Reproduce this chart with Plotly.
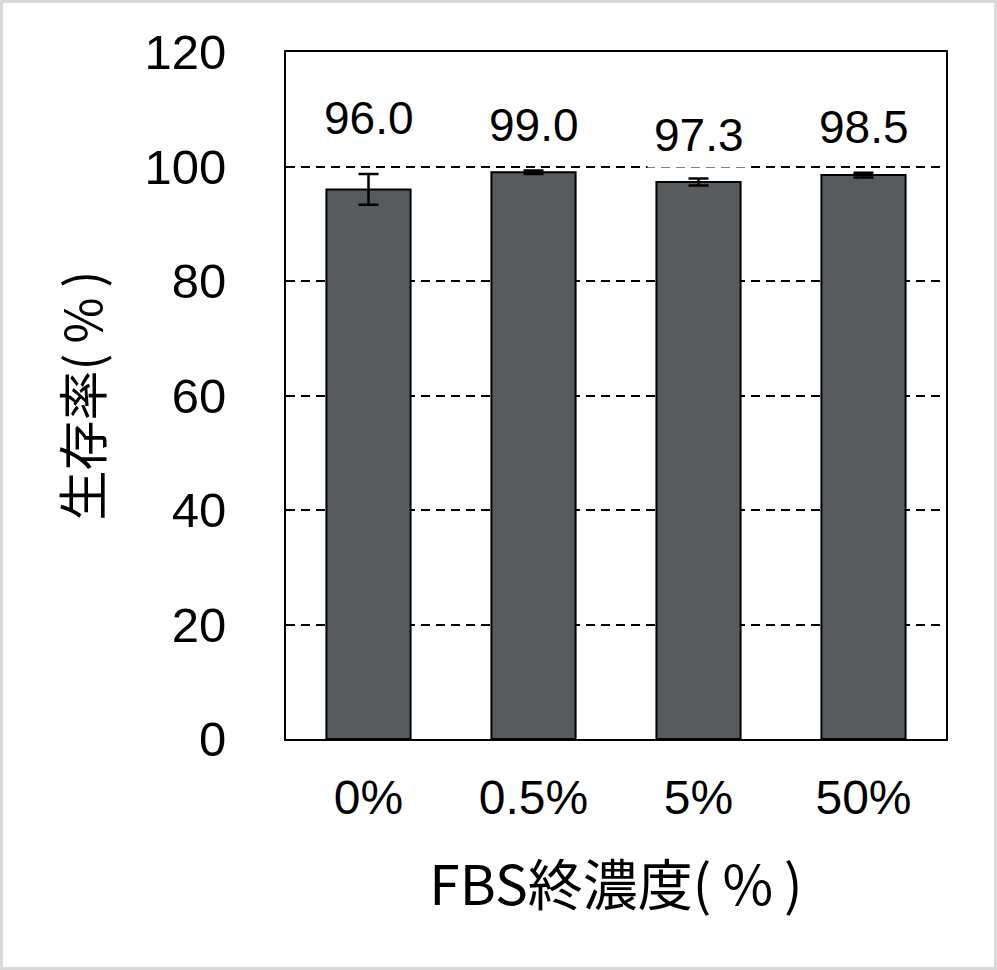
import plotly.graph_objects as go

# FBS final concentration vs. survival rate
categories = ['0%', '0.5%', '5%', '50%']
survival = [96.0, 99.0, 97.3, 98.5]
err = [2.7, 0.3, 0.6, 0.4]
labels = ['96.0', '99.0', '97.3', '98.5']

FONT = 'Liberation Sans, Arial, Noto Sans CJK JP, sans-serif'
JP_FONT = 'Noto Sans CJK JP, sans-serif'

fig = go.Figure()
fig.add_trace(go.Bar(
    x=categories, y=survival,
    marker=dict(color='#585b5e', line=dict(color='black', width=2)),
    width=0.51,
    error_y=dict(type='data', array=err, visible=True,
                 color='black', thickness=2.5, width=10),
))

# value labels sit above the error bars (pixel lift per label)
lift = [56, 46, 44, 46]
for c, v, e, t, s in zip(categories, survival, err, labels, lift):
    fig.add_annotation(x=c, y=v + e, text=t, showarrow=False,
                       yanchor='middle', yshift=s,
                       font=dict(family=FONT, size=46, color='black'),
                       bgcolor='white', borderpad=6)

fig.update_layout(
    width=997, height=970,
    margin=dict(l=286, r=51, t=52, b=231),
    plot_bgcolor='white', paper_bgcolor='white',
    showlegend=False,
    font=dict(family=FONT, size=48, color='black'),
    bargap=0.49,
)
fig.update_yaxes(
    range=[0, 120], dtick=20, tickformat='d',
    showline=True, mirror=True, linecolor='black', linewidth=2,
    showgrid=True, gridcolor='black', gridwidth=1.5, griddash='9px,6px',
    ticks='inside', ticklen=6, tickcolor='black',
    tickfont=dict(family=FONT, size=49), ticklabelstandoff=48,
    zeroline=False,
    title=dict(text='生存率(\u2009%\u2009)', font=dict(family=JP_FONT, size=50), standoff=26),
)
fig.update_xaxes(
    showline=True, mirror=True, linecolor='black', linewidth=2,
    ticks='', tickfont=dict(family=FONT, size=48), ticklabelstandoff=15,
    title=dict(text='FBS終濃度(\u2009%\u2009)', font=dict(family=JP_FONT, size=55), standoff=44),
)

# light grey frame around the whole picture
fig.add_shape(type='rect', xref='paper', yref='paper',
              x0=-286 / 660, x1=1 + 51 / 660, y0=-231 / 687, y1=1 + 52 / 687,
              line=dict(color='#d9d9d9', width=6), layer='below')

fig.write_html('out.html', config={'displayModeBar': False},
               post_script="document.body.style.margin='0';")
